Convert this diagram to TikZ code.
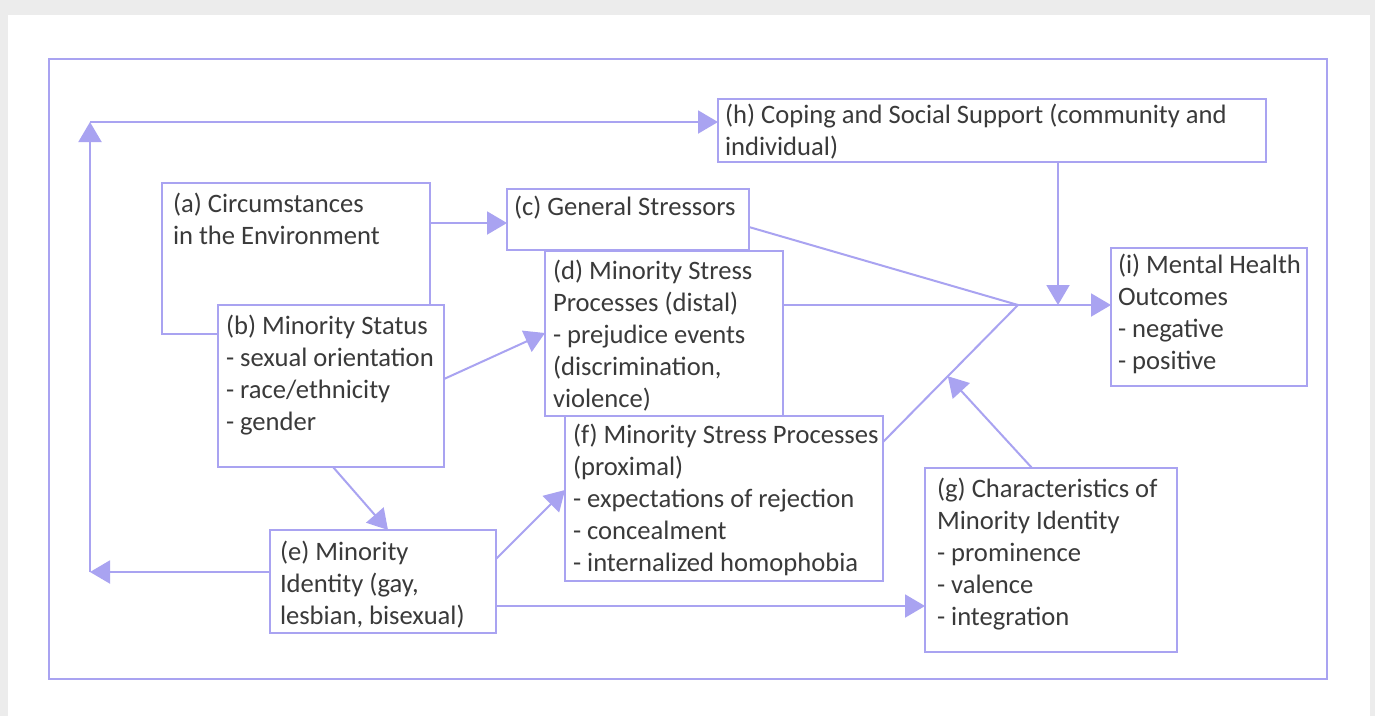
\documentclass[tikz,border=0pt]{standalone}
\usepackage{fontspec}
\setmainfont{Carlito}
\usetikzlibrary{arrows.meta,calc}
\definecolor{lc}{HTML}{A9A3F1}
\definecolor{tc}{HTML}{3A3A3A}
\definecolor{bg}{HTML}{ECECEC}
\begin{document}
\begin{tikzpicture}[x=1pt,y=-1pt,
  box/.style={draw=lc, line width=2.2pt, fill=white, inner sep=0pt, outer sep=0pt, anchor=north west},
  txt/.style={anchor=base west, inner sep=0pt, outer sep=0pt, align=left, text=tc, font=\fontsize{26.6}{32}\selectfont},
  arr/.style={draw=lc, line width=2pt, -{Triangle[length=20pt,width=23pt]}},
  ln/.style={draw=lc, line width=2pt}]
\useasboundingbox (0,0) rectangle (1375,716);
\fill[bg] (0,0) rectangle (1375,716);
\fill[white] (8,15) rectangle (1370,716);
% outer frame
\node[box, fill=none, minimum width=1278pt, minimum height=620pt] (frame) at (49,59) {};
% boxes
\node[box, minimum width=268pt, minimum height=151pt] (a) at (162,183) {};
\node[box, minimum width=226pt, minimum height=162pt] (b) at (218,305) {};
\node[box, minimum width=242pt, minimum height=61pt] (c) at (507,189) {};
\node[box, minimum width=238pt, minimum height=165pt] (d) at (545,251) {};
\node[box, minimum width=318pt, minimum height=165pt] (f) at (565,416) {};
\node[box, minimum width=226pt, minimum height=103pt] (e) at (270,530) {};
\node[box, minimum width=252pt, minimum height=184pt] (g) at (925,468) {};
\node[box, minimum width=548pt, minimum height=63pt] (h) at (718,99) {};
\node[box, minimum width=196pt, minimum height=138pt] (i) at (1111,248) {};
% texts (base anchor = baseline of last line)
\node[txt] (at) at (173,244) {(a) Circumstances\\in the Environment};
\node[txt] (bt) at (226,430) {(b) Minority Status\\- sexual orientation\\- race/ethnicity\\- gender};
\node[txt] (ct) at (514,215) {(c) General Stressors};
\node[txt] (dt) at (553,407) {(d) Minority Stress\\Processes (distal)\\- prejudice events\\(discrimination,\\violence)};
\node[txt] (et) at (280,624) {(e) Minority\\Identity (gay,\\lesbian, bisexual)};
\node[txt] (ft) at (573,571) {(f) Minority Stress Processes\\(proximal)\\- expectations of rejection\\- concealment\\- internalized homophobia};
\node[txt] (gt) at (937,625) {(g) Characteristics of\\Minority Identity\\- prominence\\- valence\\- integration};
\node[txt] (ht) at (725,155) {(h) Coping and Social Support (community and\\individual)};
\node[txt] (it) at (1118,369) {(i) Mental Health\\Outcomes\\- negative\\- positive};
% junction points
\coordinate (j) at (1018,305);
\coordinate (fp) at ([yshift=-26pt]f.north east);
\coordinate (gf) at ($(fp)!0.48!(j)$);
\coordinate (hj) at (1058,305);
\coordinate (lb) at (90,572);
\coordinate (lt) at (90,122);
% connectors
\draw[arr] ([yshift=-40pt]a.north east) -- ([yshift=-34pt]c.north west);
\draw[arr] ([yshift=-74pt]b.north east) -- ([yshift=-82pt]d.north west);
\draw[arr] ([xshift=115pt]b.south west) -- ([xshift=118pt]e.north west);
\draw[arr] ([yshift=-29pt]e.north east) -- ([yshift=-74pt]f.north west);
\draw[arr] ([yshift=-76pt]e.north east) -- ([yshift=-138pt]g.north west);
\draw[ln] ([yshift=-38pt]c.north east) -- (j);
\draw[ln] ([yshift=-54pt]d.north east) -- (j);
\draw[ln] (fp) -- (j);
\draw[arr] (j) -- ([yshift=-57pt]i.north west);
\draw[arr] ([xshift=-208pt]h.south east) -- (hj);
\draw[arr] ([xshift=107pt]g.north west) -- (gf);
\draw[arr] ([yshift=-42pt]e.north west) -- (lb);
\draw[arr] (lb) -- (lt);
\draw[arr] (lt) -- ([yshift=-23pt]h.north west);
\end{tikzpicture}
\end{document}
